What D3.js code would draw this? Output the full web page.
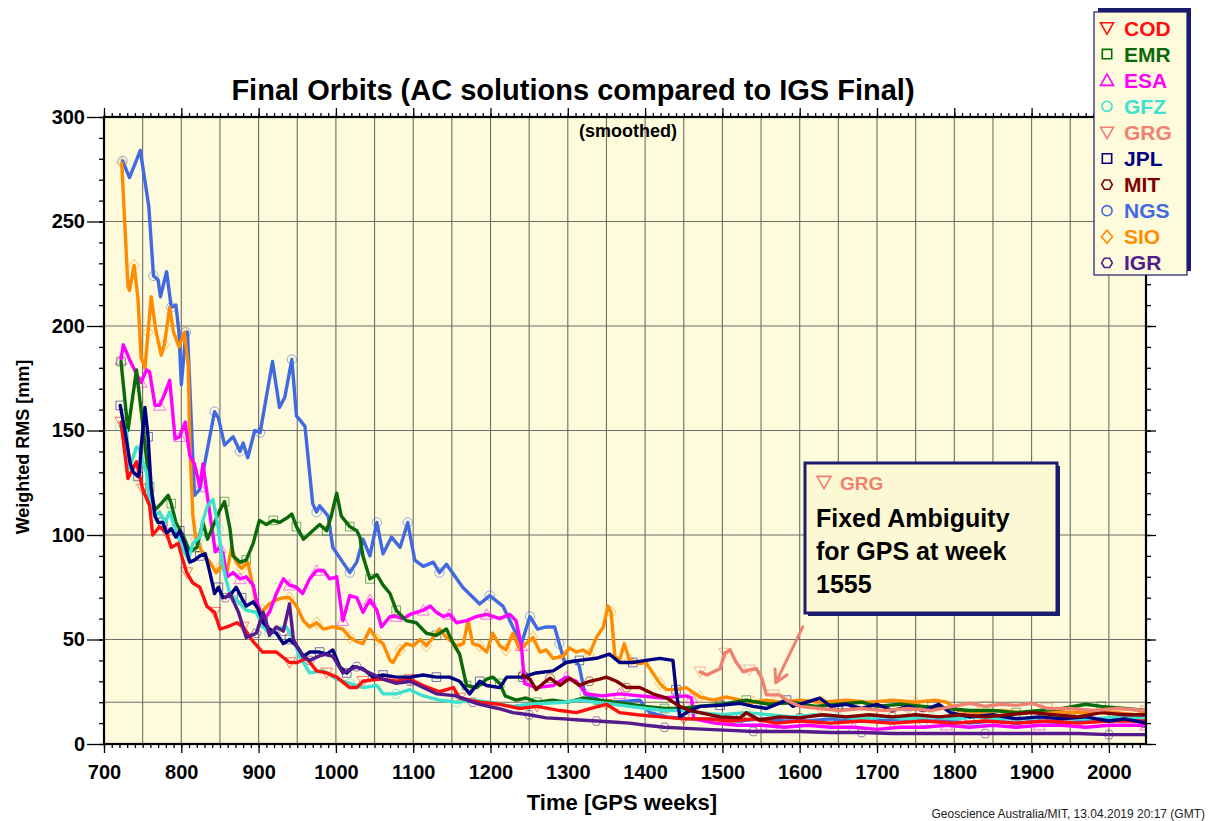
<!DOCTYPE html>
<html>
<head>
<meta charset="utf-8">
<script src="https://cdn.jsdelivr.net/npm/d3@7"></script>
<style>
  html, body { margin: 0; padding: 0; background: #ffffff; }
  svg { display: block; font-family: "Liberation Sans", Arial, Helvetica, sans-serif; }
</style>
</head>
<body>
<svg id="chart" width="1208" height="821"></svg>
<script>
// ---------------- DATA ----------------
const title = "Final Orbits (AC solutions compared to IGS Final)";
const subtitle = "(smoothed)";
const xLabel = "Time [GPS weeks]";
const yLabel = "Weighted RMS [mm]";
const footer = "Geoscience Australia/MIT, 13.04.2019 20:17 (GMT)";

const centers = ["COD", "EMR", "ESA", "GFZ", "GRG", "JPL", "MIT", "NGS", "SIO", "IGR"];
const xTickLabels = [700, 800, 900, 1000, 1100, 1200, 1300, 1400, 1500, 1600, 1700, 1800, 1900, 2000];
const yTickLabels = [0, 50, 100, 150, 200, 250, 300];

// [GPS week, weighted RMS mm]
const COD = [[722,154],[731,127],[735,130],[742,135],[750,122],[759,114],[763,100],[772,104],[781,101],[787,94],[796,96],[802,88],[807,82],[815,77],[824,75],[833,66],[843,63],[850,55],[859,56],[872,58],[880,56],[893,49],[905,44],[923,44],[940,39],[950,39],[962,41],[975,35],[988,34],[1001,32],[1018,27],[1027,27],[1035,30],[1053,31],[1061,31],[1078,30],[1096,31],[1113,28],[1134,25],[1152,27],[1160,22],[1186,20],[1212,19],[1238,17],[1260,18],[1290,16],[1311,15],[1330,17],[1350,19],[1367,15],[1390,14],[1420,13],[1450,12],[1480,12],[1510,11],[1540,12],[1570,10],[1600,11],[1640,10],[1680,11],[1720,10],[1760,11],[1800,10],[1840,11],[1880,10],[1920,11],[1960,10],[2000,11],[2048,11]];
const EMR = [[722,183],[731,150],[742,179],[751,150],[759,123],[766,112],[774,115],[783,119],[787,115],[793,106],[802,100],[811,92],[820,94],[828,106],[834,98],[850,112],[856,116],[863,103],[867,90],[876,87],[884,88],[893,96],[901,107],[910,105],[919,107],[927,106],[936,108],[943,110],[949,104],[958,98],[970,102],[979,105],[988,102],[994,109],[1001,120],[1007,109],[1018,104],[1027,102],[1031,99],[1035,90],[1044,79],[1053,81],[1061,76],[1070,72],[1078,64],[1091,59],[1104,58],[1117,53],[1130,52],[1143,55],[1152,48],[1160,43],[1169,28],[1182,27],[1195,31],[1203,32],[1212,29],[1219,23],[1233,21],[1246,22],[1260,20],[1280,21],[1300,20],[1320,22],[1340,21],[1360,20],[1380,19],[1400,18],[1425,17],[1445,17],[1470,18],[1500,19],[1531,21],[1560,19],[1590,20],[1620,18],[1650,19],[1680,20],[1700,18],[1730,19],[1760,18],[1790,17],[1820,16],[1850,16],[1880,15],[1910,16],[1940,17],[1970,19],[1990,18],[2020,17],[2048,16]];
const ESA = [[722,184],[725,191],[733,184],[742,177],[748,173],[755,179],[759,178],[766,162],[772,162],[779,168],[785,174],[792,146],[798,147],[805,154],[811,138],[817,134],[824,123],[828,134],[837,110],[844,92],[850,94],[854,91],[859,80],[867,82],[876,79],[884,80],[893,76],[897,69],[906,59],[914,63],[923,72],[932,79],[940,76],[949,75],[957,72],[966,79],[975,83],[984,83],[992,79],[1001,80],[1009,59],[1018,71],[1027,70],[1035,63],[1044,69],[1053,64],[1059,56],[1070,61],[1078,61],[1087,60],[1096,62],[1104,63],[1113,64],[1122,66],[1130,63],[1139,61],[1147,62],[1156,58],[1169,59],[1182,61],[1195,62],[1212,60],[1225,62],[1233,59],[1240,47],[1244,29],[1259,27],[1281,28],[1298,32],[1311,30],[1324,24],[1345,23],[1367,24],[1393,23],[1423,22],[1453,23],[1460,22],[1463,12],[1490,10],[1520,9],[1550,9],[1580,8],[1610,9],[1640,8],[1670,8],[1700,7],[1730,8],[1760,8],[1790,9],[1820,8],[1850,9],[1880,8],[1910,9],[1940,9],[1970,8],[2000,9],[2048,9]];
const GFZ = [[721,152],[729,150],[733,132],[742,142],[746,141],[751,134],[755,130],[759,115],[766,109],[772,111],[779,106],[785,111],[792,103],[800,95],[809,88],[815,96],[824,99],[828,107],[834,114],[841,117],[848,103],[854,85],[859,77],[863,72],[871,69],[884,64],[897,63],[906,56],[914,53],[923,55],[936,56],[945,50],[953,42],[966,34],[984,35],[1001,31],[1018,29],[1035,27],[1053,28],[1061,24],[1078,24],[1096,26],[1113,23],[1134,21],[1156,20],[1177,21],[1199,20],[1229,18],[1250,19],[1272,19.5],[1295,20],[1315,21],[1337,20],[1358,19],[1380,18],[1401,17],[1425,16],[1445,16],[1470,15],[1500,14],[1530,15],[1560,14],[1590,13],[1620,14],[1650,13],[1680,12],[1710,13],[1740,12],[1770,13],[1800,12],[1830,13],[1860,12],[1890,12],[1920,13],[1950,12],[1980,12],[2010,13],[2048,12]];
const GRG = [[1471,34.5],[1480,33],[1488,34.5],[1497,36],[1503,43.5],[1510,45],[1518,39],[1527,34.5],[1535,35.5],[1544,36],[1551,31.5],[1557,23.5],[1566,23.5],[1574,23.5],[1583,21],[1600,18],[1626,17],[1652,16],[1680,17],[1710,16],[1740,17],[1770,16],[1798,18],[1820,19.5],[1840,18],[1860,19],[1880,18.5],[1900,19.5],[1920,17],[1950,17],[1980,16],[2010,17],[2048,16]];
const JPL = [[721,162],[727,150],[734,134],[738,130],[744,128],[746,130],[748,142],[753,161],[757,147],[761,123],[766,109],[770,106],[776,106],[781,101],[787,103],[793,99],[798,102],[804,96],[811,87],[817,88],[824,90],[831,91],[837,82],[843,72],[848,75],[854,70],[863,71],[871,75],[878,70],[884,66],[893,68],[899,65],[906,58],[914,55],[923,53],[932,48],[940,50],[949,47],[958,42],[966,44],[979,44],[988,43],[996,45],[1005,37],[1014,34],[1022,37],[1035,36],[1048,32],[1061,33],[1078,32],[1096,32],[1113,33],[1130,32],[1147,32],[1160,30],[1173,24],[1186,30],[1195,28],[1212,27],[1221,32],[1242,32],[1259,34],[1281,35],[1298,39],[1315,40],[1337,41],[1354,43],[1367,39],[1384,39],[1401,40],[1419,41],[1436,40],[1440,26],[1445,13],[1458,16],[1471,18],[1497,18.5],[1523,19.5],[1540,18],[1557,17],[1583,21],[1591,18],[1626,22],[1640,18],[1660,19],[1680,17],[1700,19],[1720,16],[1740,18],[1760,16],[1780,19],[1795,15],[1820,13],[1850,14],[1880,12],[1910,13],[1940,12],[1970,13],[2000,11],[2020,12],[2048,10]];
const MIT = [[1242,33],[1251,31],[1259,26],[1268,29],[1277,31.5],[1290,28],[1302,31.5],[1315,28],[1328,30],[1341,31],[1350,32],[1363,30],[1376,27],[1393,27],[1410,24],[1428,22],[1445,18],[1458,16],[1471,15],[1497,13],[1523,12.5],[1531,15],[1548,11.5],[1574,13],[1600,12.5],[1630,14],[1660,13],[1690,14],[1720,13],[1750,14],[1780,13],[1810,14],[1840,13],[1870,14],[1900,15],[1930,14],[1960,13],[1990,15],[2020,14],[2048,14]];
const NGS = [[724,279],[733,271],[747,284],[758,257],[764,224],[770,222],[773,214],[781,226],[787,209],[793,210],[797,197],[800,172],[806,197],[808,197],[817,119],[824,122],[843,159],[848,156],[856,143],[867,147],[876,140],[880,144],[886,137],[895,150],[902,149],[918,183],[927,161],[934,166],[943,184],[949,157],[960,152],[970,115],[975,111],[979,114],[990,109],[996,94],[1018,82],[1027,87],[1035,98],[1044,90],[1053,106],[1061,91],[1072,99],[1083,94],[1093,106],[1102,88],[1113,85],[1126,87],[1134,82],[1143,86],[1164,75],[1186,67],[1199,71],[1216,66],[1229,56],[1240,48],[1251,61],[1261,55],[1272,56],[1283,56],[1289,48],[1296,39],[1311,40],[1315,37],[1322,24],[1341,21],[1358,20],[1393,21],[1406,15],[1428,13],[1460,12],[1490,12],[1520,11],[1550,12],[1580,11],[1610,11],[1640,12],[1670,11],[1700,11],[1730,12],[1760,11],[1790,11],[1820,10],[1850,11],[1880,10],[1910,11],[1940,10],[1970,11],[2000,11],[2030,13],[2048,14]];
const SIO = [[723,278],[727,248],[731,219],[733,217],[739,229],[744,213],[748,185],[753,180],[757,197],[761,214],[767,198],[774,186],[778,191],[785,209],[790,197],[797,190],[804,197],[809,181],[811,144],[815,109],[819,98],[828,91],[837,87],[845,82],[851,85],[859,82],[865,94],[871,87],[878,84],[886,87],[893,75],[899,63],[906,64],[914,67],[923,69],[932,70],[940,70],[949,66],[958,59],[966,56],[975,58],[984,55],[996,56],[1009,55],[1018,51],[1027,49],[1035,48],[1044,55],[1053,50],[1061,48],[1070,40],[1074,39],[1083,45],[1091,48],[1100,47],[1109,50],[1117,47],[1126,51],[1134,55],[1143,51],[1156,47],[1165,48],[1171,59],[1177,48],[1186,47],[1195,44],[1203,53],[1212,47],[1220,45],[1229,53],[1238,45],[1246,48],[1255,51],[1264,44],[1272,45],[1281,41],[1294,42],[1302,46],[1311,44],[1320,45],[1328,43],[1337,51],[1346,56],[1352,66],[1356,63],[1361,42],[1367,40],[1373,48],[1380,40],[1393,38.5],[1401,39],[1410,34],[1419,29],[1428,26],[1440,26],[1453,27],[1471,22.5],[1488,21],[1505,22.5],[1523,21],[1540,20],[1557,21],[1574,20],[1600,21],[1630,20],[1660,21],[1690,20],[1720,21],[1750,20],[1775,21],[1790,20],[1805,16],[1830,15],[1860,16],[1890,15],[1920,16],[1950,15],[1980,15],[2010,15],[2035,14],[2048,15]];
const IGR = [[857,70],[863,72],[874,63],[884,51],[897,53],[906,63],[914,52],[923,56],[932,54],[940,67],[945,50],[957,42],[966,40],[984,43],[996,42],[1009,34],[1027,37],[1044,34],[1061,31],[1078,29],[1096,30],[1113,27],[1130,24],[1156,23],[1177,20],[1186,19],[1210,17],[1229,15],[1250,14],[1272,12.5],[1295,12],[1315,11.5],[1337,11],[1358,10.5],[1380,10],[1401,9],[1425,8],[1453,7.5],[1480,7],[1510,6.5],[1540,6],[1570,6],[1600,6],[1640,5.5],[1680,5.5],[1720,5],[1760,5],[1800,5],[1840,5],[1880,5],[1920,5],[1960,5],[2000,4.5],[2048,4.5]];

const seriesData = { COD, EMR, ESA, GFZ, GRG, JPL, MIT, NGS, SIO, IGR };
const colors = {
  COD: "#ff1010", EMR: "#0a6a0a", ESA: "#ff00ff", GFZ: "#40e0d0", GRG: "#f08070",
  JPL: "#000080", MIT: "#800000", NGS: "#4169e1", SIO: "#ff8c00", IGR: "#551a8b"
};
const shapes = {
  COD: "triDown", EMR: "square", ESA: "triUp", GFZ: "circle", GRG: "triDown",
  JPL: "square", MIT: "hexagon", NGS: "circle", SIO: "diamond", IGR: "hexagon"
};
const annotationTitle = "GRG";
const annotationLines = ["Fixed Ambiguity", "for GPS at week", "1555"];
const annotationWeek = 1555;

// ---------------- LAYOUT ----------------
const svg = d3.select("#chart");
const L = 104, R = 1146, T = 117, B = 744;
const x = d3.scaleLinear().domain([700, 2048]).range([L, R]);
const y = d3.scaleLinear().domain([0, 300]).range([B, T]);

function symbolPath(shape, s) {
  const h = s / 2;
  switch (shape) {
    case "triDown": return `M${-h},${-h*0.8}L${h},${-h*0.8}L0,${h*0.95}Z`;
    case "triUp": return `M${-h},${h*0.8}L${h},${h*0.8}L0,${-h*0.95}Z`;
    case "square": { const q = h*0.72; return `M${-q},${-q}H${q}V${q}H${-q}Z`; }
    case "circle": { const r = h*0.78; return `M${r},0A${r},${r} 0 1,1 ${-r},0A${r},${r} 0 1,1 ${r},0Z`; }
    case "diamond": return `M0,${-h}L${h*0.85},0L0,${h}L${-h*0.85},0Z`;
    case "hexagon": {
      const r = h*0.82; let p = "";
      for (let i = 0; i < 6; i++) { const a = Math.PI/3*i; p += (i ? "L" : "M") + (r*Math.cos(a)).toFixed(2) + "," + (r*Math.sin(a)).toFixed(2); }
      return p + "Z";
    }
  }
}

// plot background
svg.append("rect").attr("x", L).attr("y", T).attr("width", R - L).attr("height", B - T)
  .attr("fill", "#fdfbdb");

// grid
const grid = svg.append("g").attr("stroke", "#6e6e66").attr("stroke-width", 1.1);
d3.range(750, 2048, 50).forEach(w => {
  grid.append("line").attr("x1", x(w)).attr("x2", x(w)).attr("y1", T).attr("y2", B);
});
[20, 50, 100, 150, 200, 250].forEach(v => {
  grid.append("line").attr("x1", L).attr("x2", R).attr("y1", y(v)).attr("y2", y(v));
});

// series
svg.append("clipPath").attr("id", "plotclip")
  .append("rect").attr("x", L).attr("y", T).attr("width", R - L).attr("height", B - T);
const plot = svg.append("g").attr("clip-path", "url(#plotclip)");
const line = d3.line().x(d => x(d[0])).y(d => y(d[1])).curve(d3.curveLinear);

const drawOrder = ["NGS", "SIO", "ESA", "EMR", "GFZ", "COD", "JPL", "MIT", "GRG", "IGR"];
drawOrder.forEach(k => {
  const data = seriesData[k];
  plot.append("g").selectAll("path").data(data.filter((d, i) => i % 4 === 0))
    .join("path")
    .attr("transform", d => `translate(${x(d[0])},${y(d[1])})`)
    .attr("d", symbolPath(shapes[k], 12))
    .attr("fill", "none").attr("stroke", colors[k]).attr("stroke-opacity", 0.55).attr("stroke-width", 1);
});
drawOrder.forEach(k => {
  plot.append("path").datum(seriesData[k]).attr("d", line)
    .attr("fill", "none").attr("stroke", colors[k]).attr("stroke-width", 3.4)
    .attr("stroke-linejoin", "round").attr("stroke-linecap", "round");
});

// frame
svg.append("rect").attr("x", L).attr("y", T).attr("width", R - L).attr("height", B - T)
  .attr("fill", "none").attr("stroke", "#000").attr("stroke-width", 2.2);

// axes
function styleAxis(g) {
  g.select(".domain").remove();
  g.selectAll(".tick line").attr("stroke", "#000").attr("stroke-width", 1.3);
  g.selectAll("text").attr("font-size", 20).attr("font-weight", "bold").attr("fill", "#000")
    .attr("font-family", "Liberation Sans, Arial, sans-serif");
}
const minorX = d3.range(700, 2049, 10);
const minorY = d3.range(0, 301, 10);
svg.append("g").attr("transform", `translate(0,${B})`)
  .call(d3.axisBottom(x).tickValues(minorX).tickSize(4).tickFormat("")).call(styleAxis);
svg.append("g").attr("transform", `translate(0,${B})`)
  .call(d3.axisBottom(x).tickValues(xTickLabels).tickSize(9).tickPadding(12).tickFormat(d3.format("d"))).call(styleAxis);
svg.append("g").attr("transform", `translate(0,${T})`)
  .call(d3.axisTop(x).tickValues(minorX).tickSize(4).tickFormat("")).call(styleAxis);
svg.append("g").attr("transform", `translate(0,${T})`)
  .call(d3.axisTop(x).tickValues(xTickLabels).tickSize(9).tickFormat("")).call(styleAxis);
svg.append("g").attr("transform", `translate(${L},0)`)
  .call(d3.axisLeft(y).tickValues(minorY).tickSize(5).tickFormat("")).call(styleAxis);
svg.append("g").attr("transform", `translate(${L},0)`)
  .call(d3.axisLeft(y).tickValues(yTickLabels).tickSize(17).tickPadding(2).tickFormat(d3.format("d"))).call(styleAxis);
svg.append("g").attr("transform", `translate(${R},0)`)
  .call(d3.axisRight(y).tickValues(minorY).tickSize(5).tickFormat("")).call(styleAxis);
svg.append("g").attr("transform", `translate(${R},0)`)
  .call(d3.axisRight(y).tickValues(yTickLabels).tickSize(10).tickFormat("")).call(styleAxis);

// titles
svg.append("text").attr("x", 573).attr("y", 100).attr("text-anchor", "middle")
  .attr("font-size", 29).attr("font-weight", "bold").text(title);
svg.append("text").attr("x", 628).attr("y", 137).attr("text-anchor", "middle")
  .attr("font-size", 18).attr("font-weight", "bold").text(subtitle);
svg.append("text").attr("x", 622).attr("y", 810).attr("text-anchor", "middle")
  .attr("font-size", 22).attr("font-weight", "bold").text(xLabel);
svg.append("text").attr("transform", "translate(29,447) rotate(-90)").attr("text-anchor", "middle")
  .attr("font-size", 18).attr("font-weight", "bold").text(yLabel);
svg.append("text").attr("x", 1205).attr("y", 818).attr("text-anchor", "end")
  .attr("font-size", 12).attr("fill", "#222").text(footer);

// legend
const lg = svg.append("g");
lg.append("rect").attr("x", 1098).attr("y", 8).attr("width", 93).attr("height", 263).attr("fill", "#1c1c6e");
lg.append("rect").attr("x", 1094).attr("y", 12).attr("width", 93).attr("height", 263)
  .attr("fill", "#fdfbdb").attr("stroke", "#1c1c6e").attr("stroke-width", 1.2);
centers.forEach((k, i) => {
  const cy = 28 + i * 26.1;
  lg.append("path").attr("transform", `translate(1107,${cy})`).attr("d", symbolPath(shapes[k], 13))
    .attr("fill", "none").attr("stroke", colors[k]).attr("stroke-width", 1.6);
  lg.append("text").attr("x", 1124).attr("y", cy + 7.5).attr("font-size", 21).attr("font-weight", "bold")
    .attr("fill", colors[k]).text(k);
});

// annotation box
const ag = svg.append("g");
ag.append("rect").attr("x", 808).attr("y", 466).attr("width", 252).attr("height", 150).attr("fill", "#1c1c6e");
ag.append("rect").attr("x", 805).attr("y", 463).attr("width", 252).attr("height", 150)
  .attr("fill", "#fcf8d4").attr("stroke", "#1c1c6e").attr("stroke-width", 3);
ag.append("path").attr("transform", "translate(824,482)").attr("d", symbolPath("triDown", 14))
  .attr("fill", "none").attr("stroke", colors.GRG).attr("stroke-width", 1.6);
ag.append("text").attr("x", 840).attr("y", 490).attr("font-size", 19).attr("font-weight", "bold")
  .attr("fill", colors.GRG).text(annotationTitle);
annotationLines.forEach((t, i) => {
  ag.append("text").attr("x", 816).attr("y", 527 + i * 33).attr("font-size", 25).attr("font-weight", "bold")
    .attr("fill", "#000").text(t);
});

// arrow to GRG just after week 1555
const grgAt = GRG.find(d => d[0] >= annotationWeek + 10);
const ax2 = x(annotationWeek + 14), ay2 = y(grgAt[1]) - 12;
const ax1 = ax2 + 27, ay1 = ay2 - 56;
const ang = Math.atan2(ay2 - ay1, ax2 - ax1);
const hl = 14;
svg.append("path")
  .attr("d", `M${ax1},${ay1}L${ax2},${ay2}` +
    `M${ax2 - hl*Math.cos(ang - 0.5)},${ay2 - hl*Math.sin(ang - 0.5)}L${ax2},${ay2}` +
    `L${ax2 - hl*Math.cos(ang + 0.5)},${ay2 - hl*Math.sin(ang + 0.5)}`)
  .attr("fill", "none").attr("stroke", colors.GRG).attr("stroke-width", 3).attr("stroke-linecap", "round")
  .attr("stroke-linejoin", "round");
</script>
</body>
</html>
